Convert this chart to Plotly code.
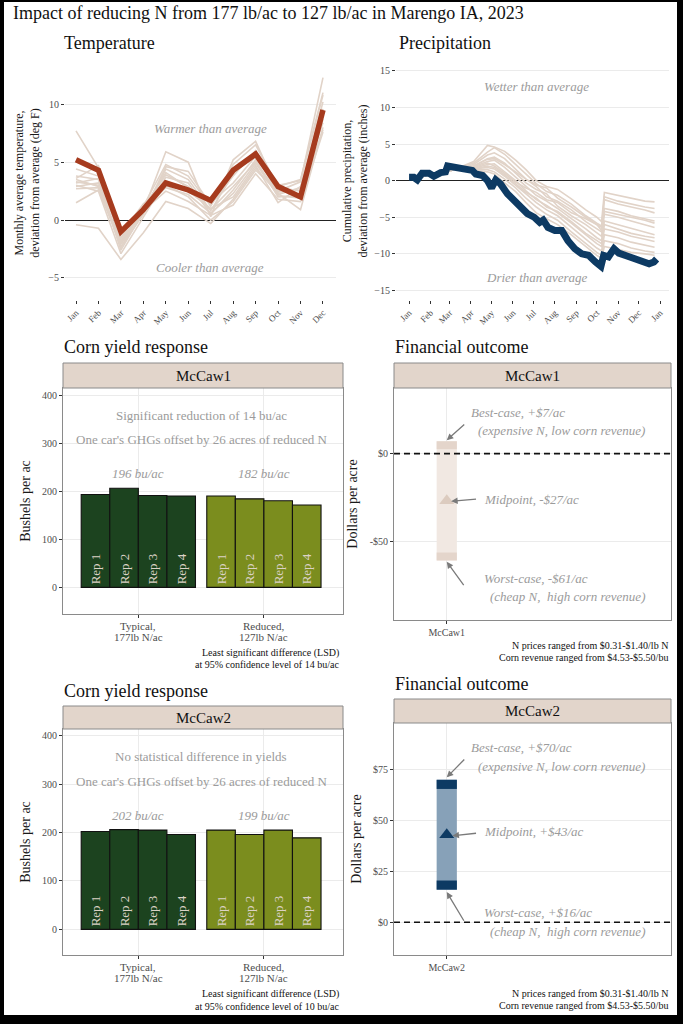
import plotly.graph_objects as go

W, H = 683, 1024
FONT = "Liberation Serif"

# ---------------- data ----------------
title_text = "Impact of reducing N from 177 lb/ac to 127 lb/ac in Marengo IA, 2023"

months = ["Jan", "Feb", "Mar", "Apr", "May", "Jun", "Jul", "Aug", "Sep", "Oct", "Nov", "Dec"]
month_idx = list(range(12))
temp_2023 = [5.2, 4.3, -1.0, 0.9, 3.2, 2.6, 1.7, 4.3, 5.7, 2.9, 2.0, 9.5]
temp_t1 = [7.7, 4.5, -2.0, 0.8, 5.9, 5.0, 0.3, 5.2, 6.8, 2.5, 3.3, 12.3]
temp_t2 = [4.4, 3.8, -1.5, 1.2, 4.8, 3.8, 1.2, 4.8, 6.5, 2.9, 3.5, 11.0]
temp_t3 = [3.8, 3.5, -2.3, 0.5, 4.4, 3.5, 0.8, 4.0, 5.8, 2.2, 2.8, 10.2]
temp_t4 = [3.5, 2.9, -1.8, 1.0, 4.1, 2.8, 1.5, 3.2, 5.5, 2.8, 2.5, 9.6]
temp_t5 = [3.2, 3.6, -2.6, 0.7, 3.7, 3.2, 0.5, 2.6, 5.2, 2.0, 2.1, 9.0]
temp_t6 = [3.0, 2.5, -2.9, 0.3, 3.4, 2.5, 1.0, 2.0, 4.7, 1.5, 2.9, 8.4]
temp_t7 = [2.9, 3.2, -1.2, 1.4, 3.0, 2.0, 0.0, 1.6, 4.3, 2.5, 2.2, 7.8]
temp_t8 = [1.5, 2.6, -2.1, 0.8, 2.5, 1.6, 0.4, 1.3, 4.0, 1.8, 1.6, 7.6]
temp_t9 = [-0.4, -0.7, -3.4, -1.1, 1.6, 1.0, -0.3, 1.8, 4.5, 2.3, 0.9, 8.0]
temp_t10 = [3.6, 4.7, -1.6, 0.6, 4.6, 4.2, 1.3, 3.8, 6.0, 3.0, 3.4, 10.8]
temp_t11 = [3.3, 3.0, -2.4, 1.1, 3.9, 2.9, 0.9, 2.9, 5.0, 2.4, 2.6, 9.3]
temp_t12 = [2.7, 2.8, -1.9, 0.9, 2.8, 2.2, 0.6, 2.3, 4.9, 2.1, 1.9, 8.7]
temp_other = [temp_t1, temp_t2, temp_t3, temp_t4, temp_t5, temp_t6,
              temp_t7, temp_t8, temp_t9, temp_t10, temp_t11, temp_t12]

precip_dates = ["2023-01-01", "2023-01-08", "2023-01-13", "2023-01-20", "2023-01-30",
                "2023-02-06", "2023-02-16", "2023-02-23", "2023-02-26", "2023-03-05",
                "2023-03-15", "2023-03-25", "2023-04-03", "2023-04-08", "2023-04-18",
                "2023-04-25", "2023-05-01", "2023-05-07", "2023-05-14", "2023-05-24",
                "2023-06-03", "2023-06-13", "2023-06-22", "2023-07-02", "2023-07-10",
                "2023-07-15", "2023-07-22", "2023-08-01", "2023-08-11", "2023-08-20",
                "2023-08-30", "2023-09-09", "2023-09-19", "2023-09-29", "2023-10-07",
                "2023-10-11", "2023-10-18", "2023-10-26", "2023-11-02", "2023-11-17",
                "2023-12-01", "2023-12-16", "2023-12-23", "2023-12-27"]
precip_2023 = [0.45, 0.45, 0.1, 1.0, 1.0, 0.6, 1.1, 1.2, 2.0, 1.9,
               1.8, 1.45, 1.4, 0.9, 0.7, 0.0, -1.0, 0.1, -0.45, -1.8,
               -2.7, -3.9, -4.5, -5.0, -5.7, -5.4, -6.4, -6.8, -6.8, -8.2,
               -9.3, -10.0, -10.2, -11.1, -11.7, -10.2, -10.4, -9.3, -9.9, -10.4,
               -10.9, -11.35, -11.1, -10.7]

precip_other_dates = ["2023-01-01", "2023-01-15", "2023-02-01", "2023-02-25", "2023-03-15",
                      "2023-04-05", "2023-04-25", "2023-05-05", "2023-05-20", "2023-06-05",
                      "2023-06-20", "2023-07-05", "2023-07-20", "2023-08-05", "2023-08-25",
                      "2023-09-15", "2023-10-01", "2023-10-08", "2023-10-12", "2023-11-01",
                      "2023-11-20", "2023-12-10", "2023-12-24"]
precip_p1 = [0.4, 0.3, 1.0, 1.2, 1.8, 2.6, 4.8, 4.6, 4.0, 2.8, 1.5, 0.0, -0.8, -1.2, -2.5, -4.0, -5.0, -5.6, -1.6, -2.0, -2.4, -2.8, -2.9]
precip_p2 = [0.4, 0.3, 1.0, 1.2, 1.8, 2.4, 3.9, 4.5, 3.6, 2.2, 0.8, -0.4, -1.5, -2.0, -3.2, -4.8, -5.8, -6.2, -2.6, -3.2, -3.6, -4.0, -4.4]
precip_p3 = [0.4, 0.3, 1.0, 1.2, 1.8, 2.2, 3.5, 3.8, 3.0, 1.6, 0.2, -0.8, -2.2, -2.8, -4.0, -5.6, -6.5, -7.0, -3.8, -4.2, -4.8, -5.2, -5.5]
precip_p4 = [0.4, 0.3, 1.0, 1.2, 1.8, 2.0, 3.0, 3.2, 2.4, 1.0, -0.3, -1.2, -1.8, -3.5, -4.8, -6.0, -7.2, -7.6, -4.6, -5.0, -5.5, -6.0, -6.4]
precip_p5 = [0.4, 0.3, 1.0, 1.2, 1.8, 1.9, 2.6, 2.8, 1.8, 0.5, -0.8, -2.0, -2.8, -3.8, -5.2, -6.6, -7.8, -8.2, -5.5, -6.0, -6.5, -7.0, -7.4]
precip_p6 = [0.4, 0.3, 1.0, 1.2, 1.8, 1.7, 2.2, 2.3, 1.2, 0.0, -1.4, -2.6, -3.4, -4.4, -5.8, -7.4, -8.6, -9.0, -6.6, -7.0, -7.6, -8.0, -8.3]
precip_p7 = [0.4, 0.3, 1.0, 1.2, 1.8, 1.6, 1.8, 1.6, 0.6, -0.6, -1.8, -3.0, -4.0, -4.8, -6.4, -8.0, -9.2, -9.6, -7.4, -7.8, -8.4, -8.8, -9.1]
precip_p8 = [0.4, 0.3, 1.0, 1.2, 1.8, 1.5, 1.5, 1.2, 0.2, -1.0, -2.4, -3.6, -4.6, -5.4, -7.0, -8.6, -9.8, -10.2, -8.2, -8.6, -9.2, -9.6, -9.8]
precip_p9 = [0.4, 0.3, 1.0, 1.2, 1.8, 1.8, 2.4, 2.0, 1.0, -0.2, -1.0, -1.6, -2.6, -3.0, -4.4, -5.2, -6.0, -6.4, -4.2, -4.6, -5.0, -5.4, -5.8]
precip_p10 = [0.4, 0.3, 1.0, 1.2, 1.8, 1.4, 1.2, 0.9, -0.3, -1.5, -3.0, -4.4, -5.2, -6.0, -7.4, -9.0, -10.2, -10.6, -9.0, -9.4, -9.8, -10.0, -10.2]
precip_p11 = [0.4, 0.3, 1.0, 1.2, 1.8, 2.0, 2.9, 3.0, 2.2, 1.2, 0.2, -0.6, -1.0, -2.4, -3.6, -5.0, -6.0, -6.8, -2.2, -2.8, -3.2, -3.6, -3.8]
precip_p12 = [0.4, 0.3, 1.0, 1.2, 1.8, 1.6, 2.0, 1.8, 0.8, -0.4, -1.6, -2.4, -3.6, -4.2, -5.6, -7.2, -8.2, -8.6, -6.0, -6.6, -7.2, -7.6, -7.8]
precip_other = [precip_p1, precip_p2, precip_p3, precip_p4, precip_p5, precip_p6,
                precip_p7, precip_p8, precip_p9, precip_p10, precip_p11, precip_p12]

yield_categories = ["Typical", "Reduced"]
yield_category_lines = [["Typical,", "177lb N/ac"], ["Reduced,", "127lb N/ac"]]
reps = ["Rep 1", "Rep 2", "Rep 3", "Rep 4"]
mccaw1_typical = [194, 207, 192, 191]
mccaw1_reduced = [191, 185, 181, 172]
mccaw2_typical = [202, 206, 205, 196]
mccaw2_reduced = [205, 196, 205, 189]
yield_ticks = [0, 100, 200, 300, 400]

fin_sites = ["McCaw1", "McCaw2"]
fin_best = [7, 70]
fin_mid = [-27, 43]
fin_worst = [-61, 16]
fin1_tickvals = [0, -50]
fin1_ticktext = ["$0", "-$50"]
fin2_tickvals = [0, 25, 50, 75]
fin2_ticktext = ["$0", "$25", "$50", "$75"]

# ---------------- styling ----------------
TAN = "#e1d3c8"
RED = "#a63b1e"
NAVY = "#0d3a63"
DKGREEN = "#1c431f"
OLIVE = "#7b8d1e"
GRAYTXT = "#9b9b9b"
TICKTXT = "#4d4d4d"
GRID = "#ebebeb"
STRIP = "#e2d5cb"
BORDER = "#8a8a8a"


def px(x):
    return x / W


def py(y):
    return 1 - y / H


fig = go.Figure()

# Temperature
for series in temp_other:
    fig.add_trace(go.Scatter(x=month_idx, y=series, mode="lines",
                             line=dict(color=TAN, width=1.6), xaxis="x", yaxis="y",
                             showlegend=False, hoverinfo="skip"))
fig.add_trace(go.Scatter(x=month_idx, y=temp_2023, mode="lines",
                         line=dict(color=RED, width=5.5), xaxis="x", yaxis="y",
                         showlegend=False))

# Precipitation
for series in precip_other:
    fig.add_trace(go.Scatter(x=precip_other_dates, y=series, mode="lines",
                             line=dict(color=TAN, width=1.6), xaxis="x2", yaxis="y2",
                             showlegend=False, hoverinfo="skip"))
fig.add_trace(go.Scatter(x=precip_dates, y=precip_2023, mode="lines",
                         line=dict(color=NAVY, width=7), xaxis="x2", yaxis="y2",
                         showlegend=False))

# Yield bars
for (typ, red, xa, ya) in [(mccaw1_typical, mccaw1_reduced, "x3", "y3"),
                           (mccaw2_typical, mccaw2_reduced, "x5", "y5")]:
    for i, rep in enumerate(reps):
        fig.add_trace(go.Bar(
            x=yield_categories, y=[typ[i], red[i]], xaxis=xa, yaxis=ya,
            marker=dict(color=[DKGREEN, OLIVE], line=dict(color="#111111", width=1.1)),
            text=[rep, rep], textposition="inside", insidetextanchor="start",
            textangle=-90, textfont=dict(family=FONT, size=13, color="#dcd2c6"),
            cliponaxis=False, showlegend=False))

# Financial range bars
fin_styles = [dict(fill="#f1e8e2", cap="#e4d5cb", tri="#dccbbf", xa="x4", ya="y4"),
              dict(fill="#87a1b8", cap=NAVY, tri=NAVY, xa="x6", ya="y6")]
CAP = 4.5
for k, site in enumerate(fin_sites):
    st = fin_styles[k]
    fig.add_trace(go.Bar(x=[site], y=[fin_best[k] - fin_worst[k]], base=[fin_worst[k]],
                         width=0.23, offset=-0.115, marker=dict(color=st["fill"], line=dict(width=0)),
                         xaxis=st["xa"], yaxis=st["ya"], showlegend=False))
    fig.add_trace(go.Bar(x=[site], y=[CAP], base=[fin_best[k] - CAP],
                         width=0.23, offset=-0.115, marker=dict(color=st["cap"], line=dict(width=0)),
                         xaxis=st["xa"], yaxis=st["ya"], showlegend=False))
    fig.add_trace(go.Bar(x=[site], y=[CAP], base=[fin_worst[k]],
                         width=0.23, offset=-0.115, marker=dict(color=st["cap"], line=dict(width=0)),
                         xaxis=st["xa"], yaxis=st["ya"], showlegend=False))
    fig.add_trace(go.Scatter(x=[site], y=[fin_mid[k]], mode="markers",
                             marker=dict(symbol="triangle-up", size=13, color=st["tri"]),
                             xaxis=st["xa"], yaxis=st["ya"], showlegend=False))

# ---------------- axes ----------------
tickfont = dict(family=FONT, size=10, color=TICKTXT)
common = dict(tickfont=tickfont, ticks="outside", ticklen=3, tickcolor="#333333",
              tickwidth=1, zeroline=False)

lay = dict(
    width=W, height=H, margin=dict(l=0, r=0, t=0, b=0),
    paper_bgcolor="white", plot_bgcolor="white",
    font=dict(family=FONT, color="#1a1a1a"),
    barmode="group", bargap=0.09, bargroupgap=0,
    showlegend=False,
)

lay["xaxis"] = dict(common, domain=[px(65), px(336)], range=[-0.49, 11.58],
                    tickvals=month_idx, ticktext=months, tickangle=-45,
                    tickfont=dict(family=FONT, size=9, color=TICKTXT),
                    showgrid=False, anchor="y")
lay["yaxis"] = dict(common, domain=[py(300), py(66)], range=[-6.9, 13.3],
                    tickvals=[-5, 0, 5, 10], gridcolor=GRID, anchor="x",
                    zeroline=True, zerolinecolor="#222222", zerolinewidth=1.3,
                    title=dict(text="Monthly average temperature,<br>deviation from average (deg F)",
                               font=dict(family=FONT, size=12, color="#1a1a1a"), standoff=6))

lay["xaxis2"] = dict(common, domain=[px(396), px(669)], type="date",
                     range=["2022-12-13", "2024-01-14"], tick0="2023-01-01", dtick="M1",
                     tickformat="%b", tickangle=-45,
                     tickfont=dict(family=FONT, size=9, color=TICKTXT),
                     showgrid=False, anchor="y2")
lay["yaxis2"] = dict(common, domain=[py(300), py(62)], range=[-16.3, 16.2],
                     tickvals=[-15, -10, -5, 0, 5, 10, 15], gridcolor=GRID, anchor="x2",
                     zeroline=True, zerolinecolor="#222222", zerolinewidth=1.3,
                     title=dict(text="Cumulative precipitation,<br>deviation from average (inches)",
                                font=dict(family=FONT, size=12, color="#1a1a1a"), standoff=4))

box = dict(showline=True, mirror=True, linecolor=BORDER, linewidth=1, gridcolor=GRID)

lay["xaxis3"] = dict(common, **box, domain=[px(63), px(343)], type="category",
                     range=[-0.6, 1.63], anchor="y3", showticklabels=False)
lay["yaxis3"] = dict(common, **box, domain=[py(614), py(388)], range=[-55.7, 416.7],
                     tickvals=yield_ticks, anchor="x3",
                     title=dict(text="Bushels per ac", font=dict(family=FONT, size=14, color="#1a1a1a"),
                                standoff=8))
lay["xaxis5"] = dict(common, **box, domain=[px(63), px(343)], type="category",
                     range=[-0.6, 1.63], anchor="y5", showticklabels=False)
lay["yaxis5"] = dict(common, **box, domain=[py(955), py(729)], range=[-52.9, 413.8],
                     tickvals=yield_ticks, anchor="x5",
                     title=dict(text="Bushels per ac", font=dict(family=FONT, size=14, color="#1a1a1a"),
                                standoff=8))

lay["xaxis4"] = dict(common, **box, domain=[px(394), px(671)], type="category",
                     range=[-0.6, 2.55], anchor="y4",
                     tickfont=dict(family=FONT, size=10, color=TICKTXT))
lay["yaxis4"] = dict(common, **box, domain=[py(620), py(388)], range=[-95, 37.4],
                     tickvals=fin1_tickvals, ticktext=fin1_ticktext, anchor="x4",
                     title=dict(text="Dollars per acre", font=dict(family=FONT, size=14, color="#1a1a1a"),
                                standoff=8))
lay["xaxis6"] = dict(common, **box, domain=[px(394), px(671)], type="category",
                     range=[-0.6, 2.55], anchor="y6",
                     tickfont=dict(family=FONT, size=10, color=TICKTXT))
lay["yaxis6"] = dict(common, **box, domain=[py(955), py(723)], range=[-16.1, 97.9],
                     tickvals=fin2_tickvals, ticktext=fin2_ticktext, anchor="x6",
                     title=dict(text="Dollars per acre", font=dict(family=FONT, size=14, color="#1a1a1a"),
                                standoff=8))

fig.update_layout(**lay)

# ---------------- shapes ----------------
shapes = []
# strips
for (x0, x1, y0, y1) in [(63, 343, 363, 388), (394, 671, 363, 388),
                         (63, 343, 706, 729), (394, 671, 699, 723)]:
    shapes.append(dict(type="rect", xref="paper", yref="paper",
                       x0=px(x0), x1=px(x1), y0=py(y1), y1=py(y0),
                       fillcolor=STRIP, line=dict(color=BORDER, width=1)))
# dashed zero lines on financial panels
for xa, ya in [("x4", "y4"), ("x6", "y6")]:
    shapes.append(dict(type="line", xref=xa + " domain", yref=ya, x0=0, x1=1, y0=0, y1=0,
                       line=dict(color="#111111", width=1.7, dash="6px,4px"), layer="above"))
# outer black frame
shapes += [
    dict(type="rect", xref="paper", yref="paper", x0=0, x1=1, y0=py(2), y1=1,
         fillcolor="black", line=dict(width=0)),
    dict(type="rect", xref="paper", yref="paper", x0=0, x1=px(4), y0=0, y1=1,
         fillcolor="black", line=dict(width=0)),
    dict(type="rect", xref="paper", yref="paper", x0=px(677), x1=1, y0=0, y1=1,
         fillcolor="black", line=dict(width=0)),
    dict(type="rect", xref="paper", yref="paper", x0=0, x1=1, y0=0, y1=py(1015),
         fillcolor="black", line=dict(width=0)),
]
fig.update_layout(shapes=shapes)

# ---------------- annotations ----------------
ann = []


def ptext(text, x, y, size, xanchor="left", color="#111111", italic=False, align="left"):
    ann.append(dict(text=text, x=px(x), y=py(y), xref="paper", yref="paper",
                    xanchor=xanchor, yanchor="middle", showarrow=False, align=align,
                    font=dict(family=FONT, size=size, color=color,
                              style="italic" if italic else "normal")))


ptext(title_text, 11, 13, 18)
ptext("Temperature", 62, 43, 18)
ptext("Precipitation", 397, 43, 18)
ptext("Corn yield response", 62, 347, 18)
ptext("Financial outcome", 393, 347, 18)
ptext("Corn yield response", 62, 691, 18)
ptext("Financial outcome", 393, 684, 18)

ptext("McCaw1", 203, 376, 15, xanchor="center")
ptext("McCaw1", 532, 376, 15, xanchor="center")
ptext("McCaw2", 203, 718, 15, xanchor="center")
ptext("McCaw2", 532, 711, 15, xanchor="center")

lsd_lines = [["Least significant difference (LSD)", "at 95% confidence level of 14 bu/ac"],
             ["Least significant difference (LSD)", "at 95% confidence level of 10 bu/ac"]]
price_lines = ["N prices ranged from $0.31-$1.40/lb N", "Corn revenue ranged from $4.53-$5.50/bu"]
for lines, ys in [(lsd_lines[0], (653, 664)), (lsd_lines[1], (994, 1006))]:
    for t, yy in zip(lines, ys):
        ptext(t, 341, yy, 10, xanchor="right")
for ys in [(645, 657), (993, 1005)]:
    for t, yy in zip(price_lines, ys):
        ptext(t, 670, yy, 10, xanchor="right")

# category labels of the yield panels (placed just below each panel)
for xa, ybot in [("x3", 614), ("x5", 955)]:
    for i, lines in enumerate(yield_category_lines):
        for j, t in enumerate(lines):
            ann.append(dict(text=t, x=i, y=py(ybot + 12 + 11 * j), xref=xa, yref="paper",
                            xanchor="center", yanchor="middle", showarrow=False,
                            font=dict(family=FONT, size=11, color=TICKTXT)))


def dtext(text, x, y, xa, ya, size=13, xanchor="center", italic=True):
    ann.append(dict(text=text, x=x, y=y, xref=xa, yref=ya, xanchor=xanchor, yanchor="middle",
                    showarrow=False,
                    font=dict(family=FONT, size=size, color=GRAYTXT,
                              style="italic" if italic else "normal")))


dtext("Warmer than average", 5.98, 7.9, "x", "y")
dtext("Cooler than average", 5.98, -4.1, "x", "y")
dtext("Wetter than average", "2023-07-06", 12.9, "x2", "y2")
dtext("Drier than average", "2023-07-06", -13.2, "x2", "y2")

dtext("Significant reduction of 14 bu/ac", 0.5, 360, "x3", "y3", italic=False)
dtext("One car's GHGs offset by 26 acres of reduced N", 0.5, 310, "x3", "y3", italic=False)
dtext("196 bu/ac", 0, 237, "x3", "y3")
dtext("182 bu/ac", 1, 237, "x3", "y3")

dtext("No statistical difference in yields", 0.5, 358, "x5", "y5", italic=False)
dtext("One car's GHGs offset by 26 acres of reduced N", 0.5, 306, "x5", "y5", italic=False)
dtext("202 bu/ac", 0, 235, "x5", "y5")
dtext("199 bu/ac", 1, 235, "x5", "y5")

# financial labels
dtext("Best-case, +$7/ac", 0.254, 23.7, "x4", "y4", xanchor="left")
dtext("(expensive N, low corn revenue)", 0.33, 13.3, "x4", "y4", xanchor="left")
dtext("Midpoint, -$27/ac", 0.406, -26, "x4", "y4", xanchor="left")
dtext("Worst-case, -$61/ac", 0.406, -71.3, "x4", "y4", xanchor="left")
dtext("(cheap N,  high corn revenue)", 0.464, -81.8, "x4", "y4", xanchor="left")

dtext("Best-case, +$70/ac", 0.254, 85.9, "x6", "y6", xanchor="left")
dtext("(expensive N, low corn revenue)", 0.33, 76.6, "x6", "y6", xanchor="left")
dtext("Midpoint, +$43/ac", 0.406, 44.6, "x6", "y6", xanchor="left")
dtext("Worst-case, +$16/ac", 0.406, 4.9, "x6", "y6", xanchor="left")
dtext("(cheap N,  high corn revenue)", 0.464, -4.6, "x6", "y6", xanchor="left")


def arrow(x, y, ax, ay, xa, ya):
    ann.append(dict(text="", x=x, y=y, ax=ax, ay=ay, xref=xa, yref=ya, axref=xa, ayref=ya,
                    showarrow=True, arrowhead=2, arrowsize=1, arrowwidth=1.3,
                    arrowcolor="#7a7a7a", standoff=0, startstandoff=0))


arrow(0, 7.6, 0.216, 17.3, "x4", "y4")
arrow(0.05, -27.2, 0.35, -26, "x4", "y4")
arrow(0, -61.8, 0.205, -76, "x4", "y4")
arrow(0, 71.2, 0.216, 80.7, "x6", "y6")
arrow(0.065, 42.5, 0.35, 43.8, "x6", "y6")
arrow(0, 14.8, 0.205, 0, "x6", "y6")

fig.update_layout(annotations=ann)

fig.write_html("out.html", config={"displayModeBar": False},
               post_script="document.body.style.margin='0';document.body.style.overflow='hidden';")
